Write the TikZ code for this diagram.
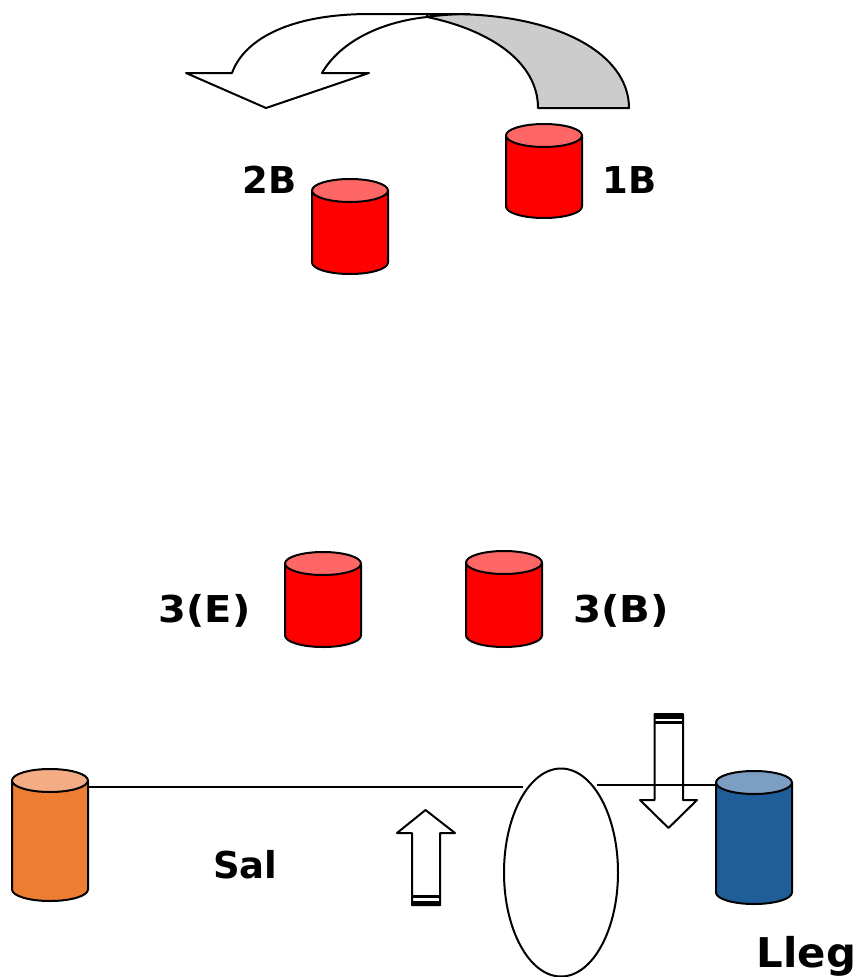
\documentclass[tikz,border=0pt]{standalone}
\usepackage{fontspec}
\usepackage{graphicx}
\setmainfont{DejaVu Sans}
\usetikzlibrary{shapes.geometric}
\definecolor{cred}{HTML}{FF0000}
\definecolor{credtop}{HTML}{FF6666}
\definecolor{corange}{HTML}{ED7D31}
\definecolor{corangetop}{HTML}{F4AC85}
\definecolor{cblue}{HTML}{1F5E99}
\definecolor{cbluetop}{HTML}{7B9EC2}
\definecolor{cgreyfill}{HTML}{CCCCCC}
\tikzset{
  outline/.style={draw=black,line width=2pt,line join=round},
  link/.style={draw=black,line width=2pt},
  lbl/.style={font=\fontsize{37}{40}\selectfont\bfseries,text=black,inner sep=0pt,anchor=base},
}
% name, left x, top y (ellipse top), bottom y, body colour, top colour
\newcommand{\drumshape}[6]{%
  \path[outline,fill=#5] (#2,#3+11.5) -- (#2,#4-11.5) arc[start angle=180,end angle=0,x radius=38,y radius=11.5]
     -- (#2+76,#3+11.5) -- cycle;
  \path[outline,fill=#6] (#2+38,#3+11.5) ellipse[x radius=38,y radius=11.5];
  \coordinate (#1) at (#2+38,#3/2+#4/2);
}
\begin{document}
\begin{tikzpicture}[x=1pt,y=-1pt]
\useasboundingbox (0,0) rectangle (859,977);
% curved arrow
\path[outline,fill=cgreyfill] (427,17) .. controls (490,30) and (538,62) .. (538,108) -- (629,108)
   .. controls (629,55) and (560,14) .. (450,14) -- (427,14) -- cycle;
\path[outline] (470,14) -- (370,14) .. controls (285,14) and (243,42) .. (232,73) -- (186,73) -- (266,108) -- (369,73) -- (322,73)
   .. controls (340,42) and (380,22) .. (427,17) .. controls (440,15) and (455,14) .. (470,14);
% drums
\drumshape{d1}{506}{124}{218}{cred}{credtop}
\drumshape{d2}{312}{179}{274}{cred}{credtop}
\drumshape{d3e}{285}{552}{647}{cred}{credtop}
\drumshape{d3b}{466}{551}{647}{cred}{credtop}
\drumshape{dout}{12}{769}{901}{corange}{corangetop}
\drumshape{din}{716}{771}{904}{cblue}{cbluetop}
% oval
\node[ellipse,outline,minimum width=114pt,minimum height=208pt,inner sep=0pt] (oval) at (561,872.5) {};
% lines
\coordinate (outend) at (88,787);
\coordinate (ovalL) at (523,787);
\coordinate (ovalR) at (597,785);
\coordinate (inend) at (716,785);
\draw[link] (outend) -- (ovalL);
\draw[link] (ovalR) -- (inend);
% striped arrows
\path[outline] (412,905) -- (412,833) -- (397,833) -- (425.5,810) -- (455,833) -- (440,833) -- (440,905) -- cycle;
\fill[black] (411,895) rectangle (441,898);
\fill[black] (411,900.5) rectangle (441,905.5);
\path[outline] (654.5,714) -- (654.5,800) -- (640,800) -- (668.5,828) -- (697,800) -- (683,800) -- (683,714) -- cycle;
\fill[black] (653.5,713.5) rectangle (684,718.5);
\fill[black] (653.5,721) rectangle (684,724);
% labels
\node[lbl] (l2b) at (269.5,193) {2B};
\node[lbl] (l1b) at (629.5,193) {1B};
\node[lbl] (l3e) at (204.5,622) {\scalebox{1.08}[1]{3(E)}};
\node[lbl] (l3b) at (621,622) {\scalebox{1.09}[1]{3(B)}};
\node[lbl] (lsal) at (245.5,878) {Sal};
\node[lbl,font=\fontsize{41}{44}\selectfont\bfseries] (lleg) at (806.5,967) {\scalebox{1.02}[1]{Lleg}};
\end{tikzpicture}
\end{document}
